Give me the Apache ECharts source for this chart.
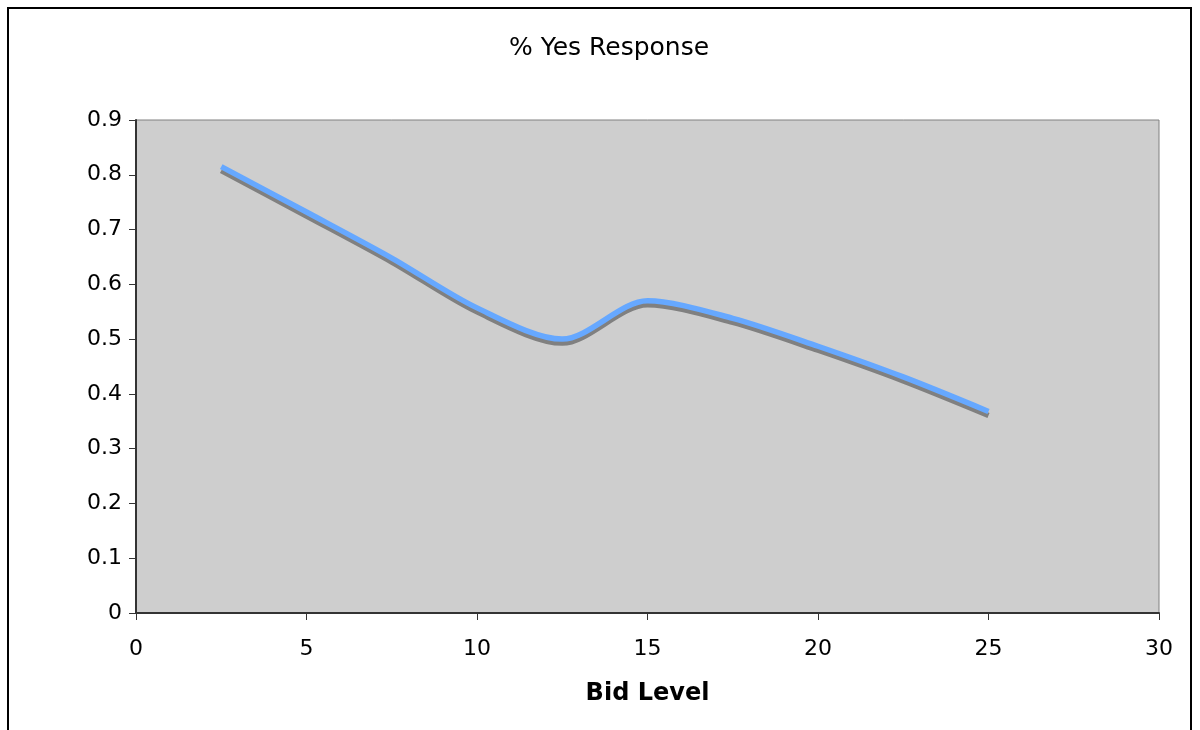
<!DOCTYPE html>
<html>
<head>
<meta charset="utf-8">
<script src="https://cdn.jsdelivr.net/npm/echarts@6/dist/echarts.min.js"></script>
<style>
html,body{margin:0;padding:0;background:#fff;}
#chart{width:1200px;height:730px;}
</style>
</head>
<body>
<div id="chart"></div>
<script>
var bidLevels = [2.5, 5, 7.5, 10, 12.5, 15, 17.5, 20, 22.5, 25];
var yesShare = [0.815, 0.732, 0.648, 0.557, 0.500, 0.570, 0.538, 0.487, 0.431, 0.368];
var titleText = '% Yes Response';
var xAxisName = 'Bid Level';

var chart = echarts.init(document.getElementById('chart'));
var font = 'DejaVu Sans, Verdana, sans-serif';
chart.setOption({
  animation: false,
  backgroundColor: '#ffffff',
  title: {
    text: titleText,
    left: 504,
    top: 31,
    textStyle: {fontFamily: font, fontSize: 25, fontWeight: 'normal', color: '#000'}
  },
  graphic: [{
    type: 'rect',
    shape: {x: 8, y: 8, width: 1183, height: 740},
    style: {fill: 'none', stroke: '#000', lineWidth: 2},
    silent: true
  }],
  grid: {
    left: 136, right: 41, top: 120, bottom: 117,
    show: true, backgroundColor: '#cecece', borderColor: '#808080', borderWidth: 1
  },
  xAxis: {
    type: 'value', min: 0, max: 30, interval: 5,
    name: xAxisName, nameLocation: 'middle', nameGap: 69,
    nameTextStyle: {fontFamily: font, fontSize: 24, fontWeight: 'bold', color: '#000'},
    axisLine: {show: true, onZero: false, lineStyle: {color: '#333', width: 2}},
    axisTick: {show: true, length: 7, lineStyle: {color: '#333'}},
    axisLabel: {fontFamily: font, fontSize: 22, color: '#000', margin: 25},
    splitLine: {show: false}
  },
  yAxis: {
    type: 'value', min: 0, max: 0.9, interval: 0.1,
    axisLine: {show: true, lineStyle: {color: '#333', width: 2}},
    axisTick: {show: true, length: 7, lineStyle: {color: '#333'}},
    axisLabel: {fontFamily: font, fontSize: 22, color: '#000', margin: 14},
    splitLine: {show: false}
  },
  series: [{
    type: 'line',
    data: bidLevels.map(function (x, i) { return [x, yesShare[i]]; }),
    smooth: 0.3,
    showSymbol: false,
    symbol: 'none',
    lineStyle: {
      color: '#66a8ff', width: 5.5,
      shadowColor: '#808080', shadowBlur: 0, shadowOffsetX: 0, shadowOffsetY: 4
    }
  }]
});
</script>
</body>
</html>
